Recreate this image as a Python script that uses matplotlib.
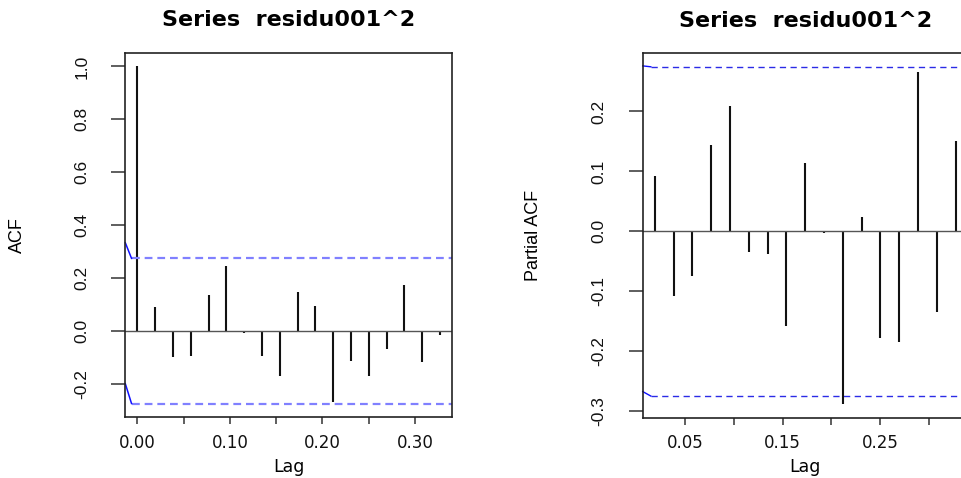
import numpy as np
import matplotlib
matplotlib.use("Agg")
import matplotlib.pyplot as plt
from matplotlib import font_manager

# donnees
freq = 52
n_obs = 51
acf_vals = [1.0, 0.092, -0.099, -0.093, 0.137, 0.245, -0.009, -0.096, -0.171,
            0.146, 0.093, -0.267, -0.114, -0.171, -0.067, 0.172, -0.119, -0.015]
pacf_vals = [0.093, -0.108, -0.074, 0.144, 0.209, -0.035, -0.038, -0.157, 0.114,
             -0.003, -0.288, 0.024, -0.178, -0.185, 0.265, -0.135, 0.151]
titre = "Series  residu001^2"

acf_lag = np.arange(len(acf_vals)) / freq
pacf_lag = np.arange(1, len(pacf_vals) + 1) / freq
clim = 1.96 / np.sqrt(n_obs)

# polices
noms = {f.name for f in font_manager.fontManager.ttflist}
etroite = 'Liberation Sans Narrow' if 'Liberation Sans Narrow' in noms else 'Liberation Sans'
large = 'DejaVu Sans'

fig = plt.figure(figsize=(9.61, 4.78), dpi=100)
ax1 = fig.add_axes([0.1304, 0.1276, 0.34, 0.7615])
ax2 = fig.add_axes([0.6688, 0.1262, 0.338, 0.7623])


def etendue(lo, hi, f=0.04):
    d = (hi - lo) * f
    return lo - d, hi + d


def habillage(ax, xt, xlab, yt, ylab_txt, ylab_x):
    for s in ax.spines.values():
        s.set_color('#222222')
        s.set_linewidth(1.2)
    ax.set_xticks(xt)
    ax.set_xticklabels(xlab, fontsize=12, family=large, color='#111111')
    ax.set_yticks(yt)
    ax.set_yticklabels(['%.1f' % v for v in yt], rotation=90, va='center',
                       fontsize=12.5, family=etroite, color='#111111')
    ax.tick_params(axis='x', length=5, width=1.1, pad=7, colors='#333333', labelcolor='#111111')
    ax.tick_params(axis='y', length=10, width=1.1, pad=16, colors='#333333', labelcolor='#111111')
    ax.text(0.5, -0.136, 'Lag', transform=ax.transAxes, ha='center', va='center',
            fontsize=12.5, family=large)
    ax.text(0.5, 1.09, titre, transform=ax.transAxes, ha='center', va='center',
            fontsize=16, fontweight='bold', family=large)
    ax.text(ylab_x, 0.5, ylab_txt, transform=ax.transAxes, ha='center', va='center',
            rotation=90, fontsize=13, family=etroite)


# ACF
ax1.vlines(acf_lag, 0, acf_vals, color='#111111', lw=1.5)
ax1.axhline(0, color='#555555', lw=1.0)
ax1.set_xlim(*etendue(acf_lag[0], acf_lag[-1]))
ax1.set_ylim(*etendue(min(min(acf_vals), -clim), 1.0))
x0 = ax1.get_xlim()[0]
dx = 0.019 * (ax1.get_xlim()[1] - x0)
for sgn, dy in [(1, 0.059), (-1, 0.075)]:
    ax1.plot([x0 + dx, ax1.get_xlim()[1]], [sgn * clim] * 2, color='#8080ff', lw=1.6,
             ls=(0, (3.5, 2.2)))
    ax1.plot([x0, x0 + dx], [sgn * clim + dy, sgn * clim], color='#1010ff', lw=1.1,
             clip_on=False)
habillage(ax1, np.arange(0, 0.31, 0.05), ['0.00', '', '0.10', '', '0.20', '', '0.30'],
          np.arange(-0.2, 1.01, 0.2), 'ACF', -0.33)

# PACF
ax2.vlines(pacf_lag, 0, pacf_vals, color='#111111', lw=1.5)
ax2.axhline(0, color='#555555', lw=1.0)
ax2.set_xlim(*etendue(pacf_lag[0], pacf_lag[-1]))
ax2.set_ylim(*etendue(min(min(pacf_vals), -clim), max(max(pacf_vals), clim)))
x0 = ax2.get_xlim()[0]
dx = 0.025 * (ax2.get_xlim()[1] - x0)
for sgn, dy in [(1, 0.0015), (-1, 0.0075)]:
    ax2.plot([x0 + dx, ax2.get_xlim()[1]], [sgn * clim] * 2, color='#2b2be6', lw=1.0,
             ls=(0, (4.5, 3.2)))
    ax2.plot([x0, x0 + dx], [sgn * clim + dy, sgn * clim], color='#1010ff', lw=1.0,
             clip_on=False)
habillage(ax2, np.arange(0.05, 0.31, 0.05), ['0.05', '', '0.15', '', '0.25', ''],
          np.arange(-0.3, 0.21, 0.1), 'Partial ACF', -0.335)

fig.savefig('out.png', dpi=100)
